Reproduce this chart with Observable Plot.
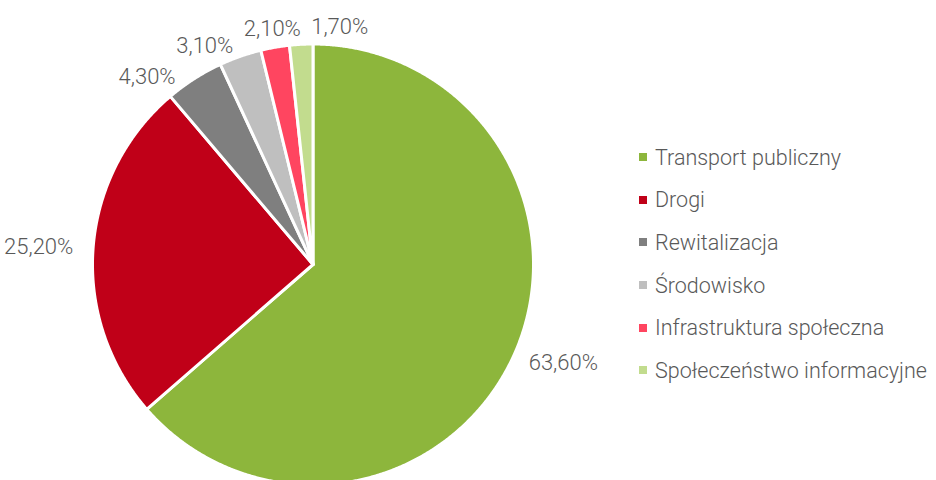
<!DOCTYPE html>
<html>
<head>
<meta charset="utf-8">
<script src="https://cdn.jsdelivr.net/npm/d3@7"></script>
<script src="https://cdn.jsdelivr.net/npm/@observablehq/plot@0.6"></script>
<style>
  html, body { margin: 0; padding: 0; background: #fff; }
  #wrap { position: relative; width: 936px; height: 480px; overflow: hidden; font-family: Roboto, "Open Sans", sans-serif; }
  #legend { position: absolute; left: 639px; top: 136px; }
  .row { display: flex; align-items: center; height: 42.6px; font-size: 21.5px; font-weight: 300; color: #595959; white-space: nowrap; }
  .sw { width: 8px; height: 8px; margin-right: 8px; flex: none; }
</style>
</head>
<body>
<div id="wrap"><div id="chart"></div><div id="legend"></div></div>
<script>
const categories = ["Transport publiczny", "Drogi", "Rewitalizacja", "Środowisko", "Infrastruktura społeczna", "Społeczeństwo informacyjne"];
const shares = [63.6, 25.2, 4.3, 3.1, 2.1, 1.7];
const shareLabels = ["63,60%", "25,20%", "4,30%", "3,10%", "2,10%", "1,70%"];
const palette = ["#8db63c", "#c00018", "#7f7f7f", "#bfbfbf", "#ff4560", "#c2dc8e"];

const W = 936, H = 480, CX = 312.5, CY = 264, R = 220.5;

// pie geometry in unit-circle coordinates (y up), angles clockwise from 12 o'clock
const arcs = d3.pie().sort(null).value(d => d)(shares);
const polys = [];
arcs.forEach((a, i) => {
  polys.push({cat: categories[i], x: 0, y: 0});
  const n = Math.max(4, Math.ceil((a.endAngle - a.startAngle) / 0.005));
  for (let k = 0; k <= n; k++) {
    const t = a.startAngle + (a.endAngle - a.startAngle) * k / n;
    polys.push({cat: categories[i], x: Math.sin(t), y: Math.cos(t)});
  }
  polys.push({cat: categories[i], x: 0, y: 0});
});

// label placement: outside end, with a simple angular relaxation to avoid overlaps
const gap = 18 / R, boxH = 30 / R;
const lw = shareLabels.map(s => s.length * 12.2 / R);
const ang = arcs.map(a => (a.startAngle + a.endAngle) / 2);
function place(i) {
  const t = ang[i], s = Math.sin(t), c = Math.cos(t);
  return {x: (1 + gap) * s + lw[i] / 2 * s, y: (1 + gap) * c};
}
for (let it = 0; it < 600; it++) {
  let moved = false;
  for (let i = 0; i < ang.length; i++) {
    const j = (i + 1) % ang.length;
    const p = place(i), q = place(j);
    if (Math.abs(p.x - q.x) < (lw[i] + lw[j]) / 2 + 6 / R && Math.abs(p.y - q.y) < boxH) {
      ang[i] -= 0.003; ang[j] += 0.003; moved = true;
    }
  }
  if (!moved) break;
}
const labelData = shareLabels.map((t, i) => ({text: t, ...place(i)}));

const chart = Plot.plot({
  width: W, height: H,
  margin: 0,
  x: {domain: [-CX / R, (W - CX) / R], range: [0, W], axis: null},
  y: {domain: [-(H - CY) / R, CY / R], range: [H, 0], axis: null},
  color: {domain: categories, range: palette},
  style: {fontFamily: "Roboto, 'Open Sans', sans-serif", background: "white"},
  marks: [
    Plot.line(polys, {x: "x", y: "y", z: "cat", fill: "cat", stroke: "white", strokeWidth: 3, strokeLinejoin: "round"}),
    Plot.text(labelData, {x: "x", y: "y", text: "text", fontSize: 22, fontWeight: 300, fill: "#595959"})
  ]
});
document.getElementById("chart").appendChild(chart);

const legend = document.getElementById("legend");
categories.forEach((c, i) => {
  const row = document.createElement("div");
  row.className = "row";
  const sw = document.createElement("span");
  sw.className = "sw";
  sw.style.background = palette[i];
  const tx = document.createElement("span");
  tx.textContent = c;
  row.appendChild(sw); row.appendChild(tx);
  legend.appendChild(row);
});
</script>
</body>
</html>
